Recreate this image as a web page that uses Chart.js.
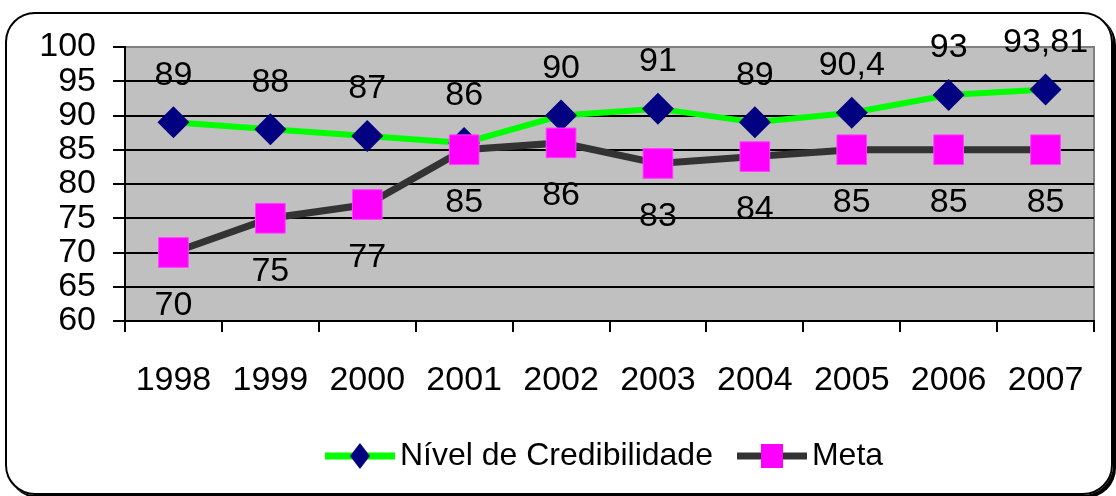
<!DOCTYPE html>
<html>
<head>
<meta charset="utf-8">
<script src="https://cdn.jsdelivr.net/npm/chart.js@4/dist/chart.umd.min.js"></script>
<style>
  body { margin: 0; background: #fff; }
  #frame {
    position: absolute; left: 5px; top: 12px; width: 1104px; height: 479px;
    border: 2px solid #000; border-radius: 30px; box-shadow: 3px 3px 0 #000;
  }
  #wrap { position: absolute; left: 0; top: 0; width: 1116px; height: 496px; }
</style>
</head>
<body>
<div id="frame"></div>
<div id="wrap"><canvas id="chart" width="1116" height="496"></canvas></div>
<script>
const years = ["1998", "1999", "2000", "2001", "2002", "2003", "2004", "2005", "2006", "2007"];
const nivel = [89, 88, 87, 86, 90, 91, 89, 90.4, 93, 93.81];
const meta = [70, 75, 77, 85, 86, 83, 84, 85, 85, 85];

const FONT = "'Liberation Sans', Arial, sans-serif";

// small canvas used as legend sample: line with the marker in the middle
function legendIcon(lineColor, lineWidth, draw) {
  const c = document.createElement("canvas");
  c.width = 70;
  c.height = 34;
  const g = c.getContext("2d");
  g.strokeStyle = lineColor;
  g.lineWidth = lineWidth;
  g.beginPath();
  g.moveTo(0, 17);
  g.lineTo(70, 17);
  g.stroke();
  draw(g);
  return c;
}

const icons = [
  legendIcon("#00FF00", 7, g => {
    g.fillStyle = "#000080";
    g.beginPath();
    g.moveTo(35, 4); g.lineTo(45, 17); g.lineTo(35, 30); g.lineTo(25, 17);
    g.closePath();
    g.fill();
  }),
  legendIcon("#333333", 7, g => {
    g.fillStyle = "#FF00FF";
    g.fillRect(24, 5, 22, 24);
  })
];

const plotBackground = {
  id: "plotBackground",
  beforeDraw(chart) {
    const { ctx, chartArea: a } = chart;
    ctx.save();
    ctx.fillStyle = "#C0C0C0";
    ctx.fillRect(a.left, a.top, a.right - a.left, a.bottom - a.top);
    ctx.strokeStyle = "#808080";
    ctx.lineWidth = 2;
    ctx.strokeRect(a.left, a.top, a.right - a.left, a.bottom - a.top);
    ctx.restore();
  }
};

const valueLabels = {
  id: "valueLabels",
  afterDatasetsDraw(chart) {
    const ctx = chart.ctx;
    ctx.save();
    ctx.font = "34px " + FONT;
    ctx.fillStyle = "#000";
    ctx.textAlign = "center";
    ctx.textBaseline = "middle";
    chart.data.datasets.forEach((ds, i) => {
      const offset = i === 0 ? -47 : 53;
      chart.getDatasetMeta(i).data.forEach((pt, j) => {
        const txt = String(ds.data[j]).replace(".", ",");
        ctx.fillText(txt, pt.x, pt.y + offset);
      });
    });
    ctx.restore();
  }
};

new Chart(document.getElementById("chart"), {
  type: "line",
  data: {
    labels: years,
    datasets: [
      {
        label: "Nível de Credibilidade",
        data: nivel,
        borderColor: "#00FF00",
        borderWidth: 6,
        pointStyle: "rectRot",
        pointRadius: 16,
        pointBackgroundColor: "#000080",
        pointBorderColor: "#000080",
        pointBorderWidth: 0,
        tension: 0,
        order: 1
      },
      {
        label: "Meta",
        data: meta,
        borderColor: "#333333",
        borderWidth: 7,
        pointStyle: "rect",
        pointRadius: 21,
        pointBackgroundColor: "#FF00FF",
        pointBorderColor: "#FF40FF",
        pointBorderWidth: 1,
        tension: 0,
        order: 0
      }
    ]
  },
  options: {
    responsive: false,
    animation: false,
    layout: { padding: { left: 0, right: 13, top: 47, bottom: 14 } },
    scales: {
      x: {
        offset: true,
        grid: {
          offset: true,
          drawOnChartArea: false,
          tickLength: 11,
          tickColor: "#000",
          lineWidth: 2
        },
        border: { color: "#000", width: 2 },
        ticks: {
          color: "#000",
          font: { size: 34, family: FONT },
          padding: 28,
          autoSkip: false,
          maxRotation: 0
        },
        afterFit(scale) { scale.height = 84; }
      },
      y: {
        min: 60,
        max: 100,
        grid: {
          color: ctx => (ctx.tick && ctx.tick.value === 100 ? "#808080" : "#000"),
          tickColor: "#000",
          tickLength: 12,
          lineWidth: 2
        },
        border: { color: "#000", width: 2 },
        ticks: {
          stepSize: 5,
          autoSkip: false,
          color: "#000",
          font: { size: 34, family: FONT },
          padding: 17
        },
        afterFit(scale) { scale.width = 125; }
      }
    },
    plugins: {
      tooltip: { enabled: false },
      legend: {
        position: "bottom",
        fullSize: false,
        labels: {
          usePointStyle: true,
          pointStyleWidth: 48,
          padding: 35,
          color: "#000",
          font: { size: 32, family: FONT },
          generateLabels: chart => chart.data.datasets.map((ds, i) => ({
            text: ds.label,
            pointStyle: icons[i],
            fontColor: "#000",
            datasetIndex: i,
            hidden: false,
            lineWidth: 0,
            strokeStyle: "transparent",
            fillStyle: "transparent"
          }))
        }
      }
    }
  },
  plugins: [plotBackground, valueLabels]
});
</script>
</body>
</html>
